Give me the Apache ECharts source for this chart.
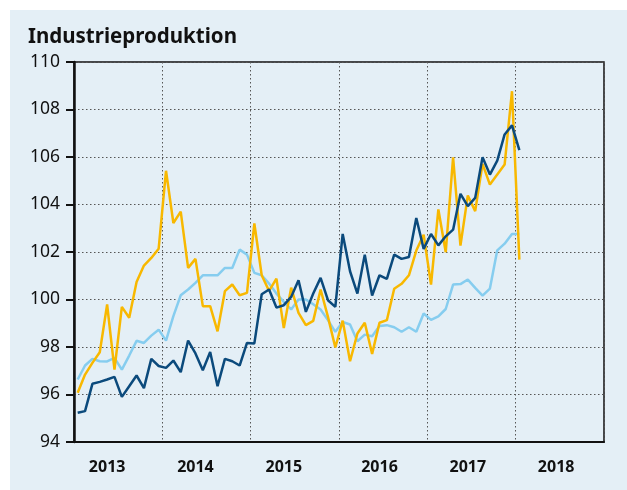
<!DOCTYPE html>
<html>
<head>
<meta charset="utf-8">
<script src="https://cdn.jsdelivr.net/npm/echarts@6/dist/echarts.min.js"></script>
<style>
	html, body { margin: 0; padding: 0; background: #fff; }
	#chart { position: absolute; left: 10px; top: 10px; width: 617px; height: 480px; background: #e4eff6; }
</style>
</head>
<body>
<div id="chart"></div>
<script type="text/javascript">
// Monatswerte Jan 2013 - Jan 2018
var years = ['2013', '2014', '2015', '2016', '2017', '2018'];
var months = [];
years.forEach(function (y) {
	for (var m = 1; m <= 12; m++) {
		months.push(y + '-' + (m < 10 ? '0' + m : m));
	}
});

var seriesDark = [95.23, 95.3, 96.45, 96.53, 96.63, 96.74, 95.9, 96.35, 96.8, 96.27, 97.5, 97.2,
	97.12, 97.43, 96.94, 98.27, 97.73, 97.02, 97.79, 96.35, 97.5, 97.4, 97.22, 98.17,
	98.15, 100.22, 100.42, 99.66, 99.76, 100.11, 100.81, 99.48, 100.25, 100.91, 99.97, 99.69,
	102.76, 101.19, 100.25, 101.89, 100.17, 101.02, 100.87, 101.89, 101.71, 101.79, 103.43, 102.13,
	102.76, 102.28, 102.66, 102.94, 104.45, 103.93, 104.28, 105.99, 105.26, 105.85, 106.95, 107.33,
	106.29];
var seriesYellow = [96.07, 96.84, 97.33, 97.78, 99.79, 97.05, 99.69, 99.23, 100.74, 101.43, 101.75, 102.14,
	105.42, 103.22, 103.7, 101.33, 101.71, 99.72, 99.72, 98.66, 100.35, 100.63, 100.18, 100.28,
	103.2, 101.02, 100.36, 100.88, 98.8, 100.5, 99.44, 98.92, 99.1, 100.42, 99.27, 97.98,
	99.11, 97.4, 98.57, 99.02, 97.71, 99.02, 99.13, 100.45, 100.66, 101.02, 102.06, 102.73,
	100.63, 103.79, 101.99, 105.99, 102.27, 104.38, 103.72, 105.71, 104.84, 105.26, 105.68, 108.77,
	101.68];
var seriesLight = [96.63, 97.22, 97.5, 97.4, 97.39, 97.54, 97.05, 97.64, 98.26, 98.17, 98.48, 98.73,
	98.27, 99.3, 100.18, 100.42, 100.7, 101.02, 101.02, 101.02, 101.33, 101.33, 102.1, 101.89,
	101.12, 101.02, 100.67, 100.25, 99.9, 99.58, 100.0, 100.0, 99.8, 99.58, 99.13, 98.64,
	99.05, 98.95, 98.24, 98.52, 98.45, 98.88, 98.92, 98.83, 98.64, 98.83, 98.64, 99.41,
	99.14, 99.29, 99.6, 100.63, 100.65, 100.84, 100.49, 100.16, 100.46, 102.07, 102.35, 102.76,
	102.76];

var labelMonths = [4, 16, 28, 41, 53, 65];
var dotted = {color: '#555', width: 1, type: [1.5, 2.5]};

var option = {
	animation: false,
	title: {
		text: 'Industrieproduktion',
		left: 13,
		top: 12,
		textStyle: {fontFamily: 'Noto Sans', fontWeight: 'bold', fontSize: 20.5, color: '#111'}
	},
	grid: {
		left: 64,
		top: 52,
		right: 23,
		bottom: 48,
		show: true,
		borderColor: '#111',
		borderWidth: 1.5
	},
	xAxis: {
		type: 'category',
		data: months,
		boundaryGap: true,
		axisLine: {lineStyle: {color: '#111', width: 2}},
		axisTick: {show: false},
		axisLabel: {
			interval: function (i) { return labelMonths.indexOf(i) >= 0; },
			formatter: function (v) { return v.slice(0, 4); },
			margin: 17,
			fontFamily: 'Noto Sans',
			fontWeight: 'bold',
			fontSize: 16,
			color: '#111'
		},
		splitLine: {
			show: true,
			interval: function (i) { return i > 0 && i % 12 === 0; },
			lineStyle: dotted
		}
	},
	yAxis: {
		type: 'value',
		min: 94,
		max: 110,
		interval: 2,
		axisLine: {show: true, lineStyle: {color: '#111', width: 2.5}},
		axisTick: {show: true, length: 8, lineStyle: {color: '#111', width: 2}},
		axisLabel: {margin: 14, fontFamily: 'Noto Sans', fontSize: 17.5, color: '#111'},
		splitLine: {show: true, lineStyle: dotted}
	},
	series: [
		{type: 'line', data: seriesLight, symbol: 'none', lineStyle: {color: '#86cdef', width: 2.5}},
		{type: 'line', data: seriesYellow, symbol: 'none', lineStyle: {color: '#f8b800', width: 2.5}},
		{type: 'line', data: seriesDark, symbol: 'none', lineStyle: {color: '#0b4a7c', width: 2.5}}
	]
};

var myChart = echarts.init(document.getElementById('chart'));
myChart.setOption(option);
</script>
</body>
</html>
